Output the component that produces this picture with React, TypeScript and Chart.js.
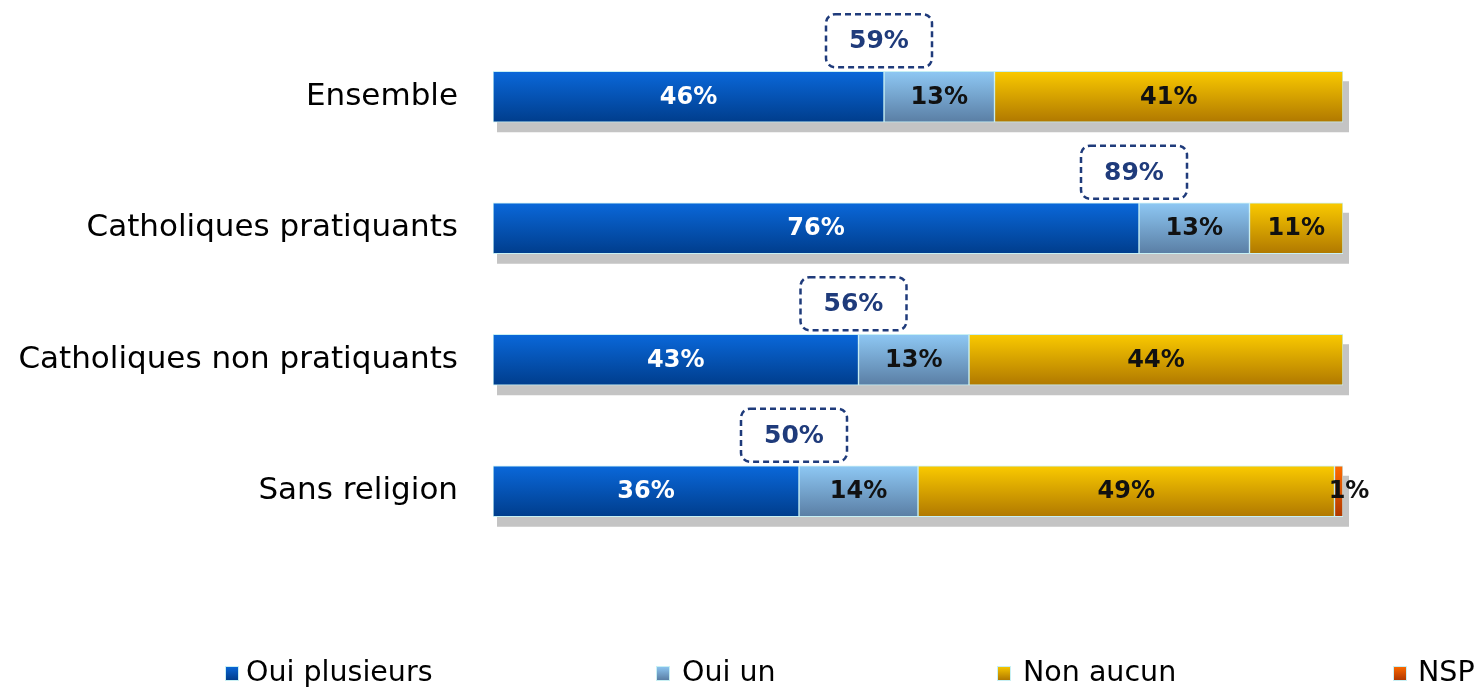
import React, { useEffect, useRef } from "react";
import { Chart, registerables } from "chart.js";

Chart.register(...registerables);

const categories = ["Ensemble", "Catholiques pratiquants", "Catholiques non pratiquants", "Sans religion"];
const seriesLabels = ["Oui plusieurs", "Oui un", "Non aucun", "NSP"];
const ouiPlusieurs = [46, 76, 43, 36];
const ouiUn = [13, 13, 13, 14];
const nonAucun = [41, 11, 44, 49];
const nsp = [0, 0, 0, 1];

const gradients: [string, string][] = [
  ["#0A68DA", "#003D8C"],
  ["#8EC8F4", "#5A7EA4"],
  ["#FACA00", "#B07800"],
  ["#FF6A00", "#B03800"],
];
const labelColors = ["#FFFFFF", "#111111", "#111111", "#111111"];
const BAR_H = 51;
const FONT = "'DejaVu Sans', Verdana, sans-serif";

function makeBg(idx: number) {
  return (c: any) => {
    const chart = c.chart;
    const ys = chart.scales && chart.scales.y;
    if (!ys || c.dataIndex == null || c.type !== "data") return gradients[idx][0];
    const cy = ys.getPixelForValue(c.dataIndex);
    if (!isFinite(cy)) return gradients[idx][0];
    const g = chart.ctx.createLinearGradient(0, cy - BAR_H / 2, 0, cy + BAR_H / 2);
    g.addColorStop(0, gradients[idx][0]);
    g.addColorStop(1, gradients[idx][1]);
    return g;
  };
}

const shadowPlugin = {
  id: "barShadow",
  beforeDatasetsDraw(chart: any) {
    const ctx = chart.ctx;
    const xs = chart.scales.x;
    const ys = chart.scales.y;
    ctx.save();
    ctx.fillStyle = "#C4C4C4";
    categories.forEach((_, i) => {
      const total = ouiPlusieurs[i] + ouiUn[i] + nonAucun[i] + nsp[i];
      const left = xs.getPixelForValue(0);
      const right = xs.getPixelForValue(total);
      const cy = ys.getPixelForValue(i);
      ctx.fillRect(left + 4, cy - BAR_H / 2 + 10, right - left + 2, BAR_H);
    });
    ctx.restore();
  },
};

const labelsPlugin = {
  id: "segLabels",
  afterDatasetsDraw(chart: any) {
    const ctx = chart.ctx;
    ctx.save();
    ctx.textAlign = "center";
    ctx.textBaseline = "middle";
    ctx.font = `bold 24px ${FONT}`;
    chart.data.datasets.forEach((ds: any, di: number) => {
      const meta = chart.getDatasetMeta(di);
      meta.data.forEach((el: any, i: number) => {
        const v = ds.data[i];
        if (!v) return;
        ctx.fillStyle = labelColors[di];
        const cx = di === 3 ? el.x + 6 : (el.x + el.base) / 2;
        ctx.fillText(v + "%", cx, el.y + 1);
      });
    });

    // total boxes (Oui plusieurs + Oui un)
    const meta0 = chart.getDatasetMeta(0);
    meta0.data.forEach((el: any, i: number) => {
      const total = ouiPlusieurs[i] + ouiUn[i];
      const w = 106;
      const h = 53;
      const cx = el.x - 5;
      const bottom = el.y - BAR_H / 2 - 4;
      const top = bottom - h;
      ctx.save();
      ctx.setLineDash([6, 4]);
      ctx.lineWidth = 2.5;
      ctx.strokeStyle = "#1F3B7B";
      ctx.beginPath();
      (ctx as any).roundRect(cx - w / 2, top, w, h, 9);
      ctx.stroke();
      ctx.restore();
      ctx.fillStyle = "#1F3B7B";
      ctx.font = `bold 25px ${FONT}`;
      ctx.fillText(total + "%", cx, top + h / 2 + 1);
    });
    ctx.restore();
  },
};

const legendSquareX = [225, 656, 997, 1393];
const legendTextX = [246, 682, 1023, 1418];
const legendPlugin = {
  id: "customLegend",
  afterDraw(chart: any) {
    const ctx = chart.ctx;
    ctx.save();
    const cy = 673;
    seriesLabels.forEach((lab, i) => {
      const x = legendSquareX[i];
      const g = ctx.createLinearGradient(0, cy - 7, 0, cy + 7);
      g.addColorStop(0, gradients[i][0]);
      g.addColorStop(1, gradients[i][1]);
      ctx.fillStyle = g;
      ctx.fillRect(x, cy - 7, 14, 15);
      ctx.strokeStyle = "#C8F0F4";
      ctx.lineWidth = 1;
      ctx.strokeRect(x + 0.5, cy - 6.5, 13, 14);
      ctx.fillStyle = "#000";
      ctx.font = `28.5px ${FONT}`;
      ctx.textAlign = "left";
      ctx.textBaseline = "middle";
      ctx.fillText(lab, legendTextX[i], cy + 1);
    });
    ctx.restore();
  },
};

export default function App() {
  const ref = useRef<HTMLCanvasElement | null>(null);
  useEffect(() => {
    if (!ref.current) return;
    const seriesData = [ouiPlusieurs, ouiUn, nonAucun, nsp];
    const chart = new Chart(ref.current, {
      type: "bar",
      data: {
        labels: categories,
        datasets: seriesLabels.map((lab, i) => ({
          label: lab,
          data: seriesData[i],
          backgroundColor: makeBg(i),
          borderColor: "#C8F0F4",
          borderWidth: 1,
          borderSkipped: false,
          barThickness: BAR_H,
        })),
      },
      options: {
        indexAxis: "y",
        animation: false,
        responsive: false,
        maintainAspectRatio: false,
        layout: { padding: { top: 31, right: 134, bottom: 133, left: 0 } },
        plugins: { legend: { display: false }, tooltip: { enabled: false } },
        scales: {
          x: { display: false, stacked: true, min: 0, max: 100 },
          y: {
            stacked: true,
            grid: { display: false, drawTicks: false },
            border: { display: false },
            ticks: { color: "#000", font: { family: FONT, size: 31 }, padding: 35 },
            afterFit: (s: any) => {
              s.width = 493;
              s.paddingTop = 0;
              s.paddingBottom = 0;
            },
          },
        },
      } as any,
      plugins: [shadowPlugin, labelsPlugin, legendPlugin],
    });
    return () => chart.destroy();
  }, []);
  return (
    <div style={{ position: "fixed", left: 0, top: 0, width: 1477, height: 690, background: "#fff" }}>
      <canvas ref={ref} width={1477} height={690} style={{ width: 1477, height: 690 }} />
    </div>
  );
}
